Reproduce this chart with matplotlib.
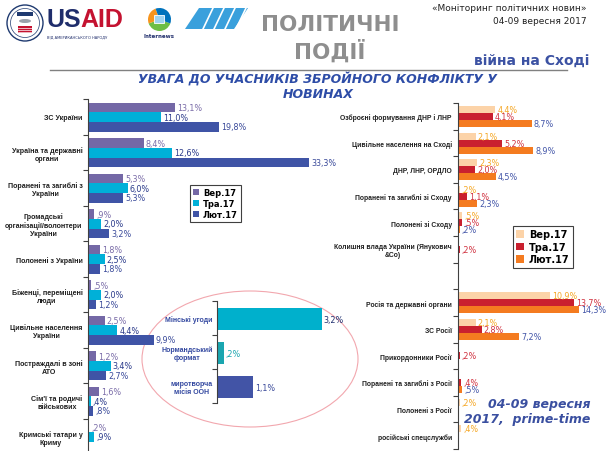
import numpy as np
import matplotlib
matplotlib.use("Agg")
import matplotlib.pyplot as plt
from matplotlib.patches import Patch, Ellipse, Circle, Rectangle, Polygon, Wedge

W, H = 608, 452

series = ["Вер.17", "Тра.17", "Лют.17"]

left_cats = ["ЗС України", "Україна та державні\nоргани", "Поранені та загиблі з\nУкраїни",
             "Громадські\nорганізації/волонтери\nУкраїни", "Полонені з України",
             "Біженці, переміщені\nлюди", "Цивільне населення\nУкраїни",
             "Постраждалі в зоні\nАТО", "Сім'ї та родичі\nвійськових", "Кримські татари у\nКриму"]
left_ver = [13.1, 8.4, 5.3, 0.9, 1.8, 0.5, 2.5, 1.2, 1.6, 0.2]
left_tra = [11.0, 12.6, 6.0, 2.0, 2.5, 2.0, 4.4, 3.4, 0.4, 0.9]
left_lyut = [19.8, 33.3, 5.3, 3.2, 1.8, 1.2, 9.9, 2.7, 0.8, np.nan]

right_cats = ["Озброєні формування ДНР і ЛНР", "Цивільне населення на Сході", "ДНР, ЛНР, ОРДЛО",
              "Поранені та загиблі зі Сходу", "Полонені зі Сходу",
              "Колишня влада України (Янукович\n&Co)", "", "Росія та державні органи", "ЗС Росії",
              "Прикордонники Росії", "Поранені та загиблі з Росії", "Полонені з Росії",
              "російські спецслужби"]
right_ver = [4.4, 2.1, 2.3, 0.2, 0.5, np.nan, np.nan, 10.9, 2.1, np.nan, np.nan, 0.2, 0.4]
right_tra = [4.1, 5.2, 2.0, 1.1, 0.5, 0.2, np.nan, 13.7, 2.8, 0.2, 0.4, np.nan, np.nan]
right_lyut = [8.7, 8.9, 4.5, 2.3, 0.2, np.nan, np.nan, 14.3, 7.2, np.nan, 0.5, np.nan, np.nan]

peace_cats = ["Мінські угоди", "Нормандський\nформат", "миротворча\nмісія ООН"]
peace_vals = [3.2, 0.2, 1.1]

LAB_FONT = "Liberation Sans"


def fmt(v):
    s = f"{v:.1f}".replace(".", ",")
    if s.startswith("0"):
        s = s[1:]
    return s + "%"


def px_axes(fig, x0, y0, x1, y1):
    ax = fig.add_axes([x0 / W, 1 - y1 / H, (x1 - x0) / W, (y1 - y0) / H])
    ax.patch.set_alpha(0)
    return ax


def style_axis(ax, cats, labsize, labcolor, pad):
    n = len(cats)
    ax.set_ylim(n, 0)
    for s in ["top", "right", "bottom"]:
        ax.spines[s].set_visible(False)
    ax.spines["left"].set_color("#404040")
    ax.spines["left"].set_linewidth(0.8)
    ax.set_xticks([])
    ax.set_yticks(np.arange(n) + 0.5)
    ax.set_yticklabels(cats, fontsize=labsize, fontweight="bold", color=labcolor,
                       family=LAB_FONT)
    for t in ax.get_yticklabels():
        t.set_multialignment("center")
    ax.set_yticks(np.arange(n + 1), minor=True)
    ax.tick_params(axis="y", which="major", length=0, pad=pad)
    ax.tick_params(axis="y", which="minor", length=3.5, width=0.8, color="#404040")


def grouped(ax, vals, colors, lcolors, h, top, fs):
    for k, (v, c, lc) in enumerate(zip(vals, colors, lcolors)):
        v = np.array(v, dtype=float)
        y = np.arange(len(v)) + top + h * (k + 0.5)
        ok = ~np.isnan(v)
        ax.barh(y[ok], v[ok], height=h, color=c, edgecolor="none")
        for yy, vv in zip(y[ok], v[ok]):
            ax.annotate(fmt(vv), (vv, yy), xytext=(1.5, 0), textcoords="offset points",
                        va="center", ha="left", fontsize=fs, color=lc)


def header(ov):
    # USAID seal
    ov.add_patch(Circle((25, 24), 18, fc="white", ec="#1F3A70", lw=1.0))
    ov.add_patch(Circle((25, 24), 14.5, fc="white", ec="#1F3A70", lw=0.5))
    ov.add_patch(Rectangle((17, 13), 16, 4, fc="#1F3A70"))
    ov.add_patch(Ellipse((25, 22), 12, 4, fc="#9AA0AA"))
    ov.add_patch(Rectangle((18, 27), 14, 7, fc="#C41230"))
    for yy in [28.5, 30.5, 32.5]:
        ov.plot([18, 32], [yy, yy], color="white", lw=0.5)
    ov.text(46, 20, "US", fontsize=18, fontweight="bold", color="#1F2D6B", va="center",
            family="Liberation Sans")
    ov.text(80, 20, "AID", fontsize=18, fontweight="bold", color="#C41230", va="center",
            family="Liberation Sans")
    ov.text(47, 37, "ВІД АМЕРИКАНСЬКОГО НАРОДУ", fontsize=2.6, color="#1F2D6B", va="center")
    # Internews
    c = (159.5, 20.5)
    ov.add_patch(Wedge(c, 11.5, 20, 160, fc="#6DBE45"))
    ov.add_patch(Wedge(c, 11.5, 160, 250, fc="#F7941D"))
    ov.add_patch(Wedge(c, 11.5, 250, 380, fc="#0072BC"))
    ov.add_patch(Rectangle((154, 16), 10, 8, fc="#9FD3F0", ec="white", lw=0.6))
    ov.text(159.5, 37, "Internews", fontsize=4, fontweight="bold", color="#1F2D6B",
            ha="center", va="center")
    # third logo
    ov.add_patch(Polygon([(185, 30), (199, 9), (248, 9), (234, 30)], fc="#3AA0DC", ec="none"))
    for x in [203, 214, 225, 236]:
        ov.plot([x, x + 10], [30, 9], color="white", lw=1.2)

    ov.text(330, 25, "ПОЛІТИЧНІ", fontsize=15.5, fontweight="bold", color="#8E8E8E",
            ha="center", va="center")
    ov.text(330, 51, "ПОДІЇ", fontsize=15.5, fontweight="bold", color="#8E8E8E",
            ha="center", va="center")
    ov.text(587, 8.5, "«Моніторинг політичних новин»", fontsize=6.5, color="#222222",
            ha="right", va="center")
    ov.text(587, 21, "04-09 вересня 2017", fontsize=6.5, color="#222222", ha="right", va="center")
    ov.text(589, 61, "війна на Сході", fontsize=10, fontweight="bold", color="#3C52A3",
            ha="right", va="center")
    ov.plot([50, 567], [71, 71], color="#808080", lw=1)
    ov.text(318, 79, "УВАГА ДО УЧАСНИКІВ ЗБРОЙНОГО КОНФЛІКТУ У", fontsize=9,
            fontweight="bold", style="italic", color="#2E4DA7", ha="center", va="center")
    ov.text(318, 95, "НОВИНАХ", fontsize=9, fontweight="bold", style="italic",
            color="#2E4DA7", ha="center", va="center")
    ov.text(590, 405, "04-09 вересня", fontsize=9, fontweight="bold", style="italic",
            color="#3A4FA0", ha="right", va="center")
    ov.text(590, 420, "2017,  prime-time", fontsize=9, fontweight="bold", style="italic",
            color="#3A4FA0", ha="right", va="center")
    ov.add_patch(Ellipse((250, 360), 216, 136, fill=False, ec="#F2A7AE", lw=0.8, zorder=5))


def main():
    fig = plt.figure(figsize=(W / 100, H / 100), dpi=100)
    ov = fig.add_axes([0, 0, 1, 1])
    ov.set_xlim(0, W)
    ov.set_ylim(H, 0)
    ov.axis("off")
    header(ov)

    # left chart
    lc = ["#7468A6", "#00B0D8", "#3F54A6"]
    ax = px_axes(fig, 88, 100, 88 + 40 * 6.64, 455)
    ax.set_xlim(0, 40)
    style_axis(ax, left_cats, 5.1, "#202020", 4)
    grouped(ax, [left_ver, left_tra, left_lyut], lc, ["#7A6CA8", "#2A3A8A", "#3A4A9A"],
            0.27, 0.11, 5.8)
    ax.legend([Patch(fc=c) for c in lc], series, loc="upper left",
              bbox_to_anchor=(190 / W, 1 - 186 / H), bbox_transform=fig.transFigure,
              prop={"weight": "bold", "size": 6}, frameon=True, fancybox=False,
              edgecolor="#404040", handlelength=0.7, handleheight=0.7, handletextpad=0.5,
              labelspacing=0.25, borderpad=0.35, borderaxespad=0, framealpha=1)
    ax.get_legend().get_frame().set_linewidth(0.8)

    # right chart
    rc = ["#FCD3A8", "#C9202F", "#F47B20"]
    ax2 = px_axes(fig, 458, 104, 458 + 16 * 8.45, 450)
    ax2.set_xlim(0, 16)
    style_axis(ax2, right_cats, 4.9, "#202020", 4.5)
    grouped(ax2, [right_ver, right_tra, right_lyut], rc, ["#F5A623", "#D0303E", "#4255A8"],
            0.263, 0.11, 5.8)
    ax2.legend([Patch(fc=c) for c in rc], series, loc="upper left",
               bbox_to_anchor=(513 / W, 1 - 227 / H), bbox_transform=fig.transFigure,
               prop={"weight": "bold", "size": 7}, frameon=True, fancybox=False,
               edgecolor="#404040", handlelength=0.8, handleheight=0.8, handletextpad=0.5,
               labelspacing=0.25, borderpad=0.35, borderaxespad=0, framealpha=1)
    ax2.get_legend().get_frame().set_linewidth(0.8)

    # inset
    ax3 = px_axes(fig, 217, 302, 217 + 3.5 * 32.7, 404)
    ax3.set_xlim(0, 3.5)
    style_axis(ax3, peace_cats, 5, "#3348A0", 3)
    pc = ["#00B0CC", "#1AA6B0", "#4254A6"]
    plc = ["#203070", "#1AA6B0", "#3A4A9A"]
    y = np.arange(3) + 0.53
    ax3.barh(y, peace_vals, height=0.62, color=pc)
    for yy, v, c in zip(y, peace_vals, plc):
        ax3.annotate(fmt(v), (v, yy), xytext=(1.5, 0), textcoords="offset points",
                     va="center", ha="left", fontsize=5.8, color=c)

    fig.savefig("out.png", dpi=100)


if __name__ == "__main__":
    main()
